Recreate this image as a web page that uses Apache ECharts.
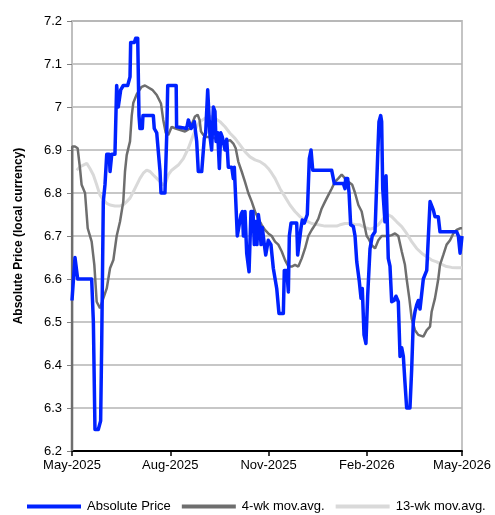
<!DOCTYPE html>
<html>
<head>
<meta charset="utf-8">
<script src="https://cdn.jsdelivr.net/npm/echarts@6/dist/echarts.min.js"></script>
<style>
html,body{margin:0;padding:0;background:#fff;}
#chart{width:495px;height:515px;}
</style>
</head>
<body>
<div id="chart"></div>
<script>
// x values are days since 2025-05-01
var tickDays = [0, 92, 184, 276, 365];
var tickLabels = ['May-2025', 'Aug-2025', 'Nov-2025', 'Feb-2026', 'May-2026'];
var yTicks = [6.2, 6.3, 6.4, 6.5, 6.6, 6.7, 6.8, 6.9, 7, 7.1, 7.2];

var priceDays = [0, 2.8, 4.4, 5.3, 18.4, 20, 21.5, 24.6, 26.8, 27.8, 29.3, 30.9, 32.5, 34.9, 35.6, 37.2, 40.2, 41.8, 43.3, 45.6, 48, 52.1, 54.3, 54.9, 58.3, 59.6, 61.5, 62.7, 63.6, 65.8, 66.4, 76.1, 77, 79.3, 82.4, 83.3, 87, 88.6, 89.6,
  97.5, 97.9, 107.3, 108.9, 111.5, 114.5, 116.7, 118.2, 121.4, 123.8, 125.1, 127, 128.2, 129.2, 130.7, 132.3, 133.8, 134.8, 136.4, 137.9, 139.2, 140.7, 142.5, 143.2, 144.8, 146.3, 149.5, 151, 151.9, 153.5, 154.7, 156.5, 158.2, 159.5, 160.4, 161.9, 163.5, 165.7, 167.5, 169.4, 170.6, 171.9, 173.1, 174.4, 176, 176.9, 178.1, 180, 181.3, 182, 183.7, 186.2, 188.4, 191.6, 193.7, 197.8, 198.7, 201, 202.5, 203.4, 205, 210.3, 211.2, 212.8, 214.3, 215.5, 217.4, 220.2, 222.1, 223.7, 225.3, 243, 245.5, 253.9, 255.5, 256.1, 258, 259.3, 260.8, 263.3, 264.9, 266.5, 268.9, 270.5, 271.7, 273.3, 275.1, 276.7, 278.9, 281, 283.6, 285.2, 286.1, 287.3, 288.9, 289.8, 290.8, 292.9, 293.9, 295.2, 296, 297.6, 299.2, 301.4, 303.2, 305.4, 307, 308.6, 310.1, 311.6, 313.2, 316.3, 317.9, 319.4, 321, 322.6, 324.1, 325.7, 327.3, 328.8, 330.4, 332, 335.1, 336.6, 338.2, 339.7, 342.8, 344.4, 360, 361.6, 363.2, 364.2, 365];
var priceValues = [6.55, 6.65, 6.65, 6.60, 6.60, 6.50, 6.25, 6.25, 6.27, 6.45, 6.78, 6.82, 6.89, 6.89, 6.85, 6.89, 6.89, 7.05, 7.00, 7.04, 7.05, 7.05, 7.07, 7.15, 7.15, 7.16, 7.16, 6.98, 6.95, 6.95, 6.98, 6.98, 6.95, 6.94, 6.85, 6.80, 6.80, 6.93, 7.05,
  7.05, 6.954, 6.95, 6.97, 6.95, 6.966, 6.92, 6.85, 6.85, 6.927, 6.94, 7.04, 6.98, 6.93, 6.90, 7.00, 6.99, 6.92, 6.94, 6.857, 6.94, 6.93, 6.93, 6.90, 6.925, 6.86, 6.86, 6.834, 6.86, 6.86, 6.70, 6.70, 6.75, 6.757, 6.70, 6.757, 6.66, 6.617, 6.757, 6.757, 6.68, 6.734, 6.68, 6.75, 6.72, 6.68, 6.72, 6.68, 6.656, 6.66, 6.69, 6.68, 6.625, 6.578, 6.52, 6.52, 6.62, 6.62, 6.57, 6.70, 6.73, 6.73, 6.656, 6.656, 6.718, 6.737, 6.73, 6.75, 6.88, 6.90, 6.853, 6.853, 6.822, 6.822, 6.81, 6.834, 6.834, 6.80, 6.726, 6.722, 6.70, 6.64, 6.594, 6.555, 6.578, 6.47, 6.45, 6.56, 6.67, 6.70, 6.71, 6.71, 6.888, 6.966, 6.98, 6.966, 6.81, 6.733, 6.84, 6.84, 6.648, 6.63, 6.547, 6.55, 6.56, 6.547, 6.42, 6.44, 6.42, 6.36, 6.30, 6.30, 6.39, 6.50, 6.524, 6.54, 6.55, 6.53, 6.53, 6.60, 6.61, 6.62, 6.78, 6.78, 6.76, 6.745, 6.745, 6.71, 6.71, 6.70, 6.66, 6.68, 6.70];

var ma4Days = [0, 0.2, 2.8, 5.3, 7.5, 9, 12.2, 14.7, 18.4, 20.9, 23.1, 26.2, 29.3, 32.5, 35.6, 38.7, 41.8, 44.9, 48, 49.6, 51.2, 54.3, 55.9, 57.4, 60.6, 65.2, 68.3, 75.2, 79.3, 83.3, 85.4, 87.7, 90.1, 93.3, 97, 105.8, 110.5, 115.1, 117.6, 119.4, 120.7, 123, 126.1, 130.7, 133.8, 136.9, 140.1, 143.2, 147.9, 151, 153.2, 155.6, 158.8, 161.9, 165, 168.2, 171.3, 174.4, 177.5, 180.6, 183.7, 186.9, 190, 193.1, 196.3, 199.4, 202.5, 205.6, 208.7, 211.8, 215, 218.1, 221.2, 224.3, 227.4, 230.5, 233.7, 236.8, 239.9, 243, 246.1, 249.3, 252.4, 255.5, 258.6, 262.3, 264.9, 268, 271.1, 273.6, 275.8, 277.3, 280.5, 283.6, 286.7, 289.8, 296, 299.2, 302.3, 305.4, 308.6, 311.6, 313.2, 315.7, 317.9, 321, 324.1, 328.8, 332, 335.1, 336.6, 338.2, 339.7, 341.3, 342.8, 344.4, 347.5, 350.6, 353.8, 356.9, 360, 363.2, 365];
var ma4Values = [6.2, 6.908, 6.908, 6.904, 6.857, 6.819, 6.80, 6.718, 6.687, 6.633, 6.547, 6.532, 6.555, 6.578, 6.625, 6.644, 6.70, 6.733, 6.78, 6.85, 6.888, 6.92, 6.98, 7.01, 7.03, 7.047, 7.05, 7.04, 7.028, 7.008, 6.97, 6.94, 6.935, 6.954, 6.95, 6.943, 6.95, 6.978, 6.982, 6.97, 6.943, 6.935, 6.93, 6.93, 6.927, 6.923, 6.915, 6.919, 6.923, 6.915, 6.904, 6.873, 6.85, 6.826, 6.80, 6.78, 6.757, 6.74, 6.726, 6.714, 6.706, 6.70, 6.687, 6.68, 6.664, 6.644, 6.629, 6.629, 6.633, 6.629, 6.648, 6.671, 6.70, 6.714, 6.726, 6.74, 6.764, 6.78, 6.795, 6.81, 6.826, 6.834, 6.843, 6.834, 6.826, 6.819, 6.80, 6.772, 6.757, 6.726, 6.70, 6.695, 6.679, 6.671, 6.69, 6.70, 6.70, 6.702, 6.706, 6.70, 6.664, 6.633, 6.60, 6.555, 6.508, 6.481, 6.47, 6.466, 6.481, 6.489, 6.524, 6.54, 6.555, 6.578, 6.60, 6.633, 6.656, 6.68, 6.69, 6.706, 6.714, 6.718, 6.718];

var ma13Days = [4.4, 7.5, 10.6, 13.8, 16.8, 20, 23.1, 26.2, 29.3, 32.5, 35.6, 40.2, 44.9, 48, 51.2, 54.3, 57.4, 60.6, 63.6, 66.7, 69.9, 73, 76.1, 79.3, 82.4, 85.4, 87.5, 90.1, 93.3, 99.5, 104.2, 108.9, 113.5, 116.7, 119.8, 124.5, 129.2, 133.8, 138.5, 143.2, 147.9, 152.6, 157.2, 161.9, 166.6, 171.3, 176, 180.6, 183.7, 186.9, 190, 194.7, 199.4, 204, 208.7, 213.4, 218.1, 224.3, 230.5, 236.8, 243, 247.7, 250.8, 255.5, 260.2, 264.9, 269.5, 274.2, 278.9, 282, 286.7, 291.3, 296, 299.2, 303.9, 308.6, 313.2, 317.9, 322.6, 327.3, 332, 336.6, 341.3, 346, 350.6, 355.3, 360, 365];
var ma13Values = [6.853, 6.861, 6.865, 6.869, 6.857, 6.842, 6.819, 6.795, 6.784, 6.776, 6.772, 6.77, 6.77, 6.772, 6.78, 6.788, 6.803, 6.819, 6.834, 6.846, 6.853, 6.85, 6.842, 6.834, 6.826, 6.819, 6.822, 6.842, 6.853, 6.865, 6.88, 6.904, 6.935, 6.954, 6.966, 6.974, 6.978, 6.974, 6.966, 6.954, 6.939, 6.927, 6.912, 6.896, 6.884, 6.877, 6.873, 6.865, 6.857, 6.846, 6.834, 6.81, 6.791, 6.772, 6.757, 6.745, 6.737, 6.729, 6.726, 6.723, 6.723, 6.723, 6.726, 6.729, 6.729, 6.727, 6.726, 6.72, 6.716, 6.718, 6.726, 6.74, 6.749, 6.745, 6.733, 6.722, 6.706, 6.687, 6.671, 6.66, 6.652, 6.644, 6.64, 6.634, 6.629, 6.627, 6.626, 6.626];

function zip(xs, ys) { return xs.map(function (x, i) { return [x, ys[i]]; }); }

var chart = echarts.init(document.getElementById('chart'), null, {renderer: 'canvas'});
var FONT = 'Liberation Sans';
chart.setOption({
  animation: false,
  backgroundColor: '#ffffff',
  grid: {left: 72, right: 33, top: 21, bottom: 64, containLabel: false,
         show: true, borderColor: '#c4c4c4', borderWidth: 2, backgroundColor: 'transparent'},
  legend: {
    left: 22,
    top: 495,
    itemWidth: 54,
    itemHeight: 4,
    itemGap: 11,
    icon: 'rect',
    data: ['Absolute Price', '4-wk mov.avg.', '13-wk mov.avg.'],
    textStyle: {fontFamily: FONT, fontSize: 13, color: '#000', padding: [0, 0, 0, 1]}
  },
  xAxis: {
    type: 'value',
    min: 0,
    max: 365,
    axisLine: {show: true, onZero: false, lineStyle: {color: '#000', width: 2}},
    axisTick: {show: true, length: 5, customValues: tickDays, lineStyle: {color: '#000', width: 1.5}},
    axisLabel: {
      customValues: tickDays,
      fontFamily: FONT, fontSize: 13, color: '#000', margin: 8,
      formatter: function (v) { var i = tickDays.indexOf(Math.round(v)); return i >= 0 ? tickLabels[i] : ''; }
    },
    splitLine: {show: false}
  },
  yAxis: {
    type: 'value',
    min: yTicks[0],
    max: yTicks[yTicks.length - 1],
    interval: 0.1,
    name: 'Absolute Price (local currency)',
    nameLocation: 'middle',
    nameGap: 47,
    nameTextStyle: {fontFamily: FONT, fontSize: 12, fontWeight: 'bold', color: '#000'},
    axisLine: {show: true, lineStyle: {color: '#bfbfbf', width: 2}},
    axisTick: {show: true, length: 5, lineStyle: {color: '#808080', width: 1}},
    axisLabel: {
      fontFamily: FONT, fontSize: 13, color: '#000', margin: 10,
      formatter: function (v) { return String(parseFloat(v.toFixed(1))); }
    },
    splitLine: {show: true, lineStyle: {color: '#b4b4b4', width: 1.5}}
  },
  series: [
    {
      name: '13-wk mov.avg.', type: 'line', data: zip(ma13Days, ma13Values),
      symbol: 'none', z: 2, clip: true,
      lineStyle: {color: '#d9d9d9', width: 3}, itemStyle: {color: '#d9d9d9'}
    },
    {
      name: '4-wk mov.avg.', type: 'line', data: zip(ma4Days, ma4Values),
      symbol: 'none', z: 3, clip: true,
      lineStyle: {color: '#6e6e6e', width: 2.5}, itemStyle: {color: '#6e6e6e'}
    },
    {
      name: 'Absolute Price', type: 'line', data: zip(priceDays, priceValues),
      symbol: 'none', z: 4, clip: true,
      lineStyle: {color: '#0022ff', width: 3.5, join: 'round'}, itemStyle: {color: '#0022ff'}
    }
  ]
});
</script>
</body>
</html>
